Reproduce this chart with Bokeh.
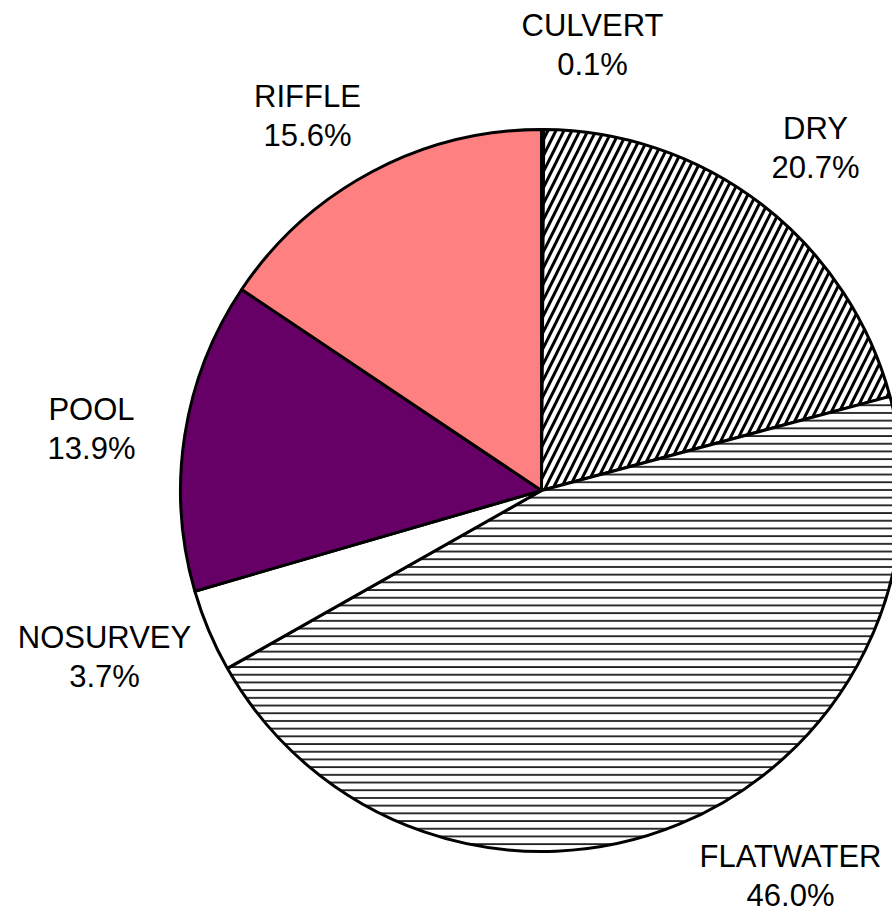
import numpy as np
from bokeh.plotting import figure
from bokeh.models import Range1d, ColumnDataSource
from bokeh.core.properties import value
from bokeh.embed import file_html
from bokeh.resources import INLINE

# ---- data ----
categories = ["CULVERT", "DRY", "FLATWATER", "NOSURVEY", "POOL", "RIFFLE"]
percents = [0.1, 20.7, 46.0, 3.7, 13.9, 15.6]

# ---- styles ----
fill_colors = ["#FFFFFF", "#FFFFFF", "#FFFFFF", "#FFFFFF", "#660066", "#FF8080"]
hatches = [" ", "/", "-", " ", " ", " "]
hatch_scales = [8, 16, 7.7, 8, 8, 8]
hatch_weights = [1, 3, 1.6, 1, 1, 1]

W, H = 892, 914
# data y = H - screen y
def sy(y):
    return H - y

cx, cy, R = 541, sy(490), 361

vals = np.array(percents, dtype=float)
frac = vals / vals.sum()
cum_end = np.cumsum(frac)
cum_start = cum_end - frac
# start at 12 o'clock, go clockwise
start_ang = np.pi / 2 - cum_end * 2 * np.pi
end_ang = np.pi / 2 - cum_start * 2 * np.pi

src = ColumnDataSource(dict(
    cat=categories, start=start_ang, end=end_ang,
    color=fill_colors, hatch=hatches, hs=hatch_scales, hw=hatch_weights,
))

p = figure(width=W, height=H, x_range=Range1d(0, W), y_range=Range1d(0, H),
           output_backend="svg", toolbar_location=None, min_border=0)
p.axis.visible = False
p.grid.visible = False
p.outline_line_color = None
p.background_fill_color = "white"
p.border_fill_color = "white"

p.wedge(x=cx, y=cy, radius=R, start_angle="start", end_angle="end",
        direction="anticlock", source=src,
        fill_color="color", line_color="black", line_width=3,
        hatch_pattern="hatch", hatch_color="black",
        hatch_scale="hs", hatch_weight="hw")

# label placement (layout): centre of each two-line label block, screen pixels
label_xy = {
    "CULVERT": (592, 44),
    "DRY": (815, 147),
    "FLATWATER": (790, 875),
    "NOSURVEY": (104, 656),
    "POOL": (91, 428),
    "RIFFLE": (307, 115),
}
line_gap = 19.5
lx, ly1, ly2, t1, t2 = [], [], [], [], []
for c, v in zip(categories, percents):
    x, y = label_xy[c]
    lx.append(x)
    ly1.append(sy(y - line_gap))
    ly2.append(sy(y + line_gap))
    t1.append(c)
    t2.append(f"{v:.1f}%")

lsrc = ColumnDataSource(dict(x=lx, y1=ly1, y2=ly2, t1=t1, t2=t2))
for ycol, tcol in (("y1", "t1"), ("y2", "t2")):
    p.text(x="x", y=ycol, text=tcol, source=lsrc,
           text_font=value("Liberation Sans"), text_font_size=value("31px"),
           text_color="black", text_align="center", text_baseline="middle")

open("out.html", "w").write(file_html(p, INLINE))
